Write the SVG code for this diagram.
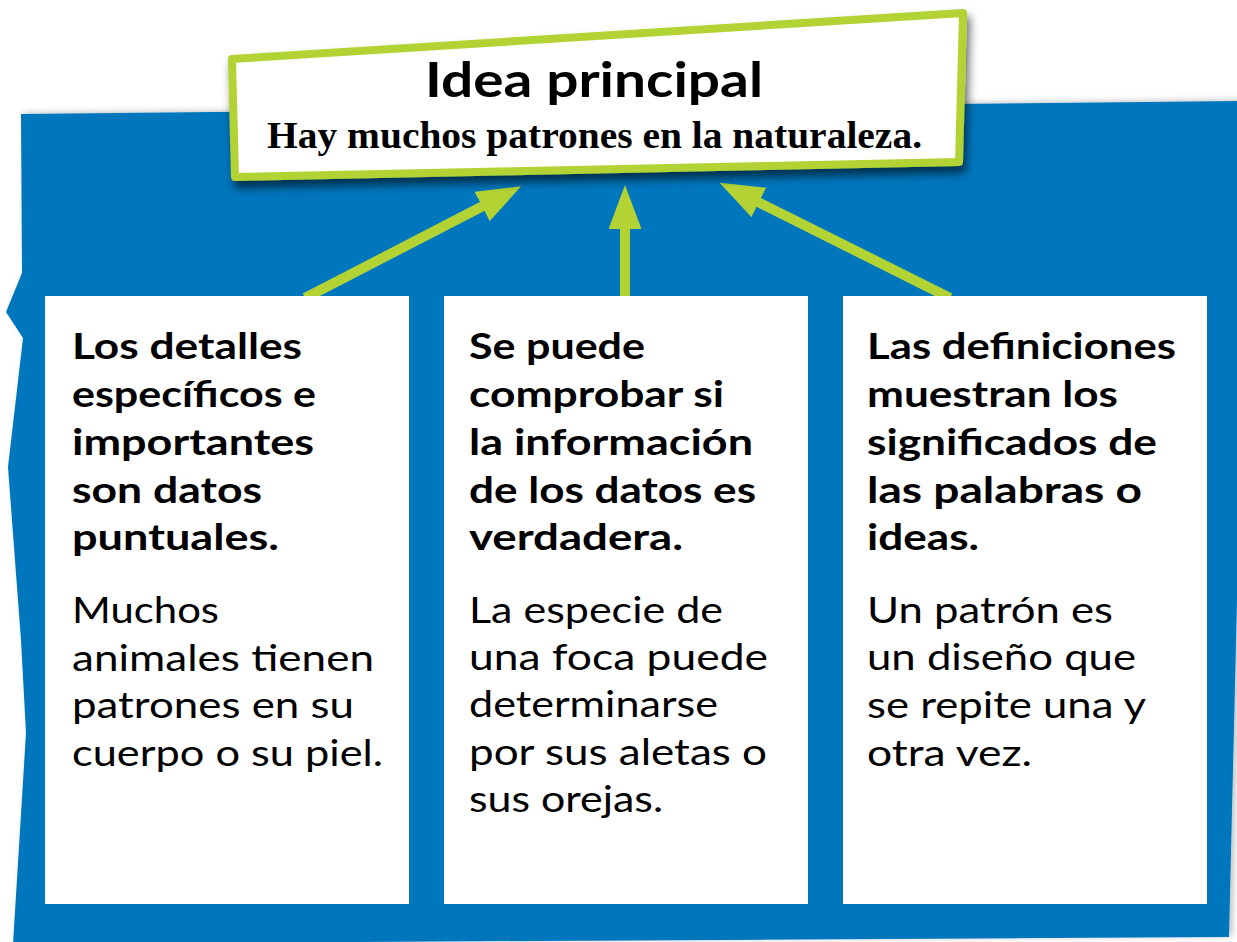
<svg xmlns="http://www.w3.org/2000/svg" width="1237" height="942" viewBox="0 0 1237 942">
  <style>
    .bg { fill: #0176bd; }
    .card { fill: #ffffff; }
    .frame { fill: #ffffff; stroke: #b3d334; stroke-width: 8; stroke-linejoin: round; }
    .conn { stroke: #b3d334; stroke-width: 10; fill: none; }
    .h { font-family: Lato, "Open Sans", "Liberation Sans", sans-serif; font-weight: 700; font-size: 36px; fill: #000; }
    .b { font-family: Lato, "Open Sans", "Liberation Sans", sans-serif; font-weight: 400; font-size: 37px; fill: #000; }
    .title { font-family: Lato, "Open Sans", "Liberation Sans", sans-serif; font-weight: 700; font-size: 47px; fill: #000; }
    .sub { font-family: "Liberation Serif", "DejaVu Serif", serif; font-weight: 700; font-size: 37px; fill: #000; }
  </style>
  <defs>
    <filter id="bgShadow" x="-5%" y="-5%" width="110%" height="110%">
      <feDropShadow dx="3" dy="-1" stdDeviation="3" flood-color="#000" flood-opacity="0.25"/>
    </filter>
    <filter id="boxShadow" x="-5%" y="-10%" width="115%" height="140%">
      <feDropShadow dx="3" dy="7" stdDeviation="5" flood-color="#000" flood-opacity="0.6"/>
    </filter>
    <marker id="head" markerUnits="userSpaceOnUse" viewBox="0 0 44 33" markerWidth="44" markerHeight="33" refX="1" refY="16.5" orient="auto">
      <path d="M0,0 L44,16.5 L0,33 Z" fill="#b3d334"/>
    </marker>
  </defs>

  <g id="background">
    <polygon class="bg" filter="url(#bgShadow)" points="21,114 1240,101 1237,600 1229,937 13,944 26,733 21,640 8,467 23,338 6,312 22,273"/>
  </g>

  <g id="connectors">
    <line class="conn" x1="305" y1="298" x2="483" y2="206" marker-end="url(#head)"/>
    <line class="conn" x1="625" y1="298" x2="625" y2="228" marker-end="url(#head)"/>
    <line class="conn" x1="950" y1="298" x2="758" y2="202" marker-end="url(#head)"/>
  </g>

  <g id="idea-principal">
    <polygon class="frame" filter="url(#boxShadow)" points="232,59 963,13 959,162 235,177"/>
    <text class="title" x="425" y="97" textLength="338" lengthAdjust="spacingAndGlyphs">Idea principal</text>
    <text class="sub" x="267" y="148" textLength="655" lengthAdjust="spacingAndGlyphs">Hay muchos patrones en la naturaleza.</text>
  </g>

  <g id="detalles">
    <rect class="card" x="45" y="296" width="364" height="608"/>
    <text class="h" x="72" y="359" textLength="230" lengthAdjust="spacingAndGlyphs">Los detalles</text>
    <text class="h" x="72" y="407" textLength="244" lengthAdjust="spacingAndGlyphs">específicos e</text>
    <text class="h" x="72" y="455" textLength="242" lengthAdjust="spacingAndGlyphs">importantes</text>
    <text class="h" x="72" y="503" textLength="190" lengthAdjust="spacingAndGlyphs">son datos</text>
    <text class="h" x="72" y="550" textLength="207" lengthAdjust="spacingAndGlyphs">puntuales.</text>
    <text class="b" x="72" y="623" textLength="147" lengthAdjust="spacingAndGlyphs">Muchos</text>
    <text class="b" x="72" y="671" textLength="302" lengthAdjust="spacingAndGlyphs">animales tienen</text>
    <text class="b" x="72" y="718" textLength="282" lengthAdjust="spacingAndGlyphs">patrones en su</text>
    <text class="b" x="72" y="766" textLength="311" lengthAdjust="spacingAndGlyphs">cuerpo o su piel.</text>
  </g>

  <g id="comprobar">
    <rect class="card" x="444" y="296" width="364" height="608"/>
    <text class="h" x="469" y="359" textLength="176" lengthAdjust="spacingAndGlyphs">Se puede</text>
    <text class="h" x="469" y="407" textLength="255" lengthAdjust="spacingAndGlyphs">comprobar si</text>
    <text class="h" x="469" y="455" textLength="284" lengthAdjust="spacingAndGlyphs">la información</text>
    <text class="h" x="469" y="503" textLength="287" lengthAdjust="spacingAndGlyphs">de los datos es</text>
    <text class="h" x="469" y="550" textLength="214" lengthAdjust="spacingAndGlyphs">verdadera.</text>
    <text class="b" x="469" y="623" textLength="254" lengthAdjust="spacingAndGlyphs">La especie de</text>
    <text class="b" x="469" y="670" textLength="299" lengthAdjust="spacingAndGlyphs">una foca puede</text>
    <text class="b" x="469" y="717" textLength="249" lengthAdjust="spacingAndGlyphs">determinarse</text>
    <text class="b" x="469" y="765" textLength="298" lengthAdjust="spacingAndGlyphs">por sus aletas o</text>
    <text class="b" x="469" y="812" textLength="194" lengthAdjust="spacingAndGlyphs">sus orejas.</text>
  </g>

  <g id="definiciones">
    <rect class="card" x="843" y="296" width="364" height="608"/>
    <text class="h" x="867" y="359" textLength="309" lengthAdjust="spacingAndGlyphs">Las definiciones</text>
    <text class="h" x="867" y="407" textLength="251" lengthAdjust="spacingAndGlyphs">muestran los</text>
    <text class="h" x="867" y="455" textLength="290" lengthAdjust="spacingAndGlyphs">significados de</text>
    <text class="h" x="867" y="503" textLength="275" lengthAdjust="spacingAndGlyphs">las palabras o</text>
    <text class="h" x="867" y="550" textLength="112" lengthAdjust="spacingAndGlyphs">ideas.</text>
    <text class="b" x="867" y="623" textLength="246" lengthAdjust="spacingAndGlyphs">Un patrón es</text>
    <text class="b" x="867" y="670" textLength="269" lengthAdjust="spacingAndGlyphs">un diseño que</text>
    <text class="b" x="867" y="718" textLength="279" lengthAdjust="spacingAndGlyphs">se repite una y</text>
    <text class="b" x="867" y="766" textLength="165" lengthAdjust="spacingAndGlyphs">otra vez.</text>
  </g>
</svg>
